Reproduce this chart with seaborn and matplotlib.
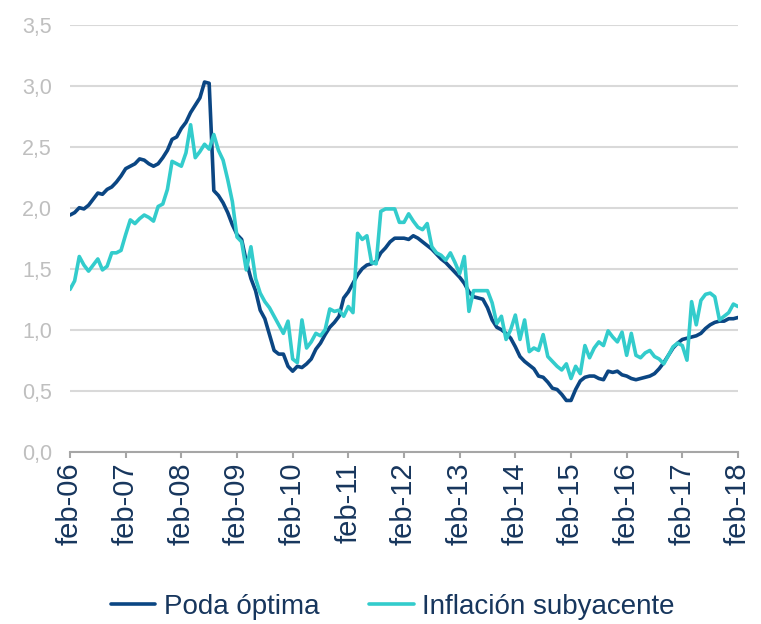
import pandas as pd
import seaborn as sns
import matplotlib.pyplot as plt

# Datos mensuales feb-06 ... feb-18 (145 meses)
poda_optima = [
    1.94, 1.96, 2.00, 1.99, 2.02, 2.07, 2.12, 2.11, 2.15, 2.17, 2.21, 2.26,
    2.32, 2.34, 2.36, 2.40, 2.39, 2.36, 2.34, 2.36, 2.41, 2.47, 2.56, 2.58,
    2.65, 2.70, 2.78, 2.84, 2.90, 3.03, 3.02, 2.14, 2.10, 2.04, 1.96, 1.86,
    1.78, 1.74, 1.56, 1.42, 1.32, 1.16, 1.09, 0.96, 0.83, 0.80, 0.80, 0.70,
    0.66, 0.70, 0.69, 0.72, 0.76, 0.84, 0.89, 0.96, 1.02, 1.06, 1.11, 1.26,
    1.31, 1.38, 1.45, 1.50, 1.53, 1.54, 1.56, 1.63, 1.67, 1.72, 1.75, 1.75,
    1.75, 1.74, 1.77, 1.75, 1.72, 1.69, 1.66, 1.62, 1.58, 1.55, 1.51, 1.47,
    1.43, 1.38, 1.31, 1.27, 1.26, 1.25, 1.18, 1.08, 1.02, 1.00, 0.97, 0.93,
    0.86, 0.78, 0.74, 0.71, 0.68, 0.62, 0.61, 0.57, 0.52, 0.51, 0.47, 0.42,
    0.42, 0.51, 0.58, 0.61, 0.62, 0.62, 0.60, 0.59, 0.66, 0.65, 0.66, 0.63,
    0.62, 0.60, 0.59, 0.60, 0.61, 0.62, 0.64, 0.68, 0.73, 0.79, 0.85, 0.89,
    0.92, 0.93, 0.94, 0.95, 0.97, 1.01, 1.04, 1.06, 1.07, 1.07, 1.09, 1.09,
    1.10,
]
inflacion_subyacente = [
    1.33, 1.40, 1.60, 1.53, 1.48, 1.53, 1.58, 1.49, 1.52, 1.63, 1.63, 1.65,
    1.78, 1.90, 1.87, 1.91, 1.94, 1.92, 1.89, 2.01, 2.03, 2.15, 2.38, 2.36,
    2.34, 2.45, 2.68, 2.41, 2.46, 2.52, 2.48, 2.60, 2.47, 2.39, 2.23, 2.05,
    1.76, 1.72, 1.49, 1.68, 1.42, 1.30, 1.23, 1.18, 1.11, 1.04, 0.97, 1.07,
    0.76, 0.73, 1.08, 0.85, 0.90, 0.97, 0.95, 1.00, 1.17, 1.15, 1.16, 1.11,
    1.19, 1.14, 1.79, 1.74, 1.77, 1.55, 1.54, 1.97, 1.99, 1.99, 1.99, 1.88,
    1.88, 1.95, 1.89, 1.84, 1.82, 1.87, 1.68, 1.63, 1.61, 1.57, 1.63, 1.55,
    1.46, 1.60, 1.15, 1.32, 1.32, 1.32, 1.32, 1.22, 1.05, 1.11, 0.92, 1.00,
    1.12, 0.92, 1.08, 0.82, 0.85, 0.83, 0.96, 0.78, 0.74, 0.70, 0.67, 0.72,
    0.60, 0.70, 0.64, 0.87, 0.77, 0.85, 0.90, 0.87, 0.99, 0.94, 0.90, 0.98,
    0.79, 0.97, 0.79, 0.77, 0.81, 0.83, 0.78, 0.76, 0.72, 0.79, 0.86, 0.89,
    0.87, 0.75, 1.23, 1.04, 1.24, 1.29, 1.30, 1.27, 1.08, 1.11, 1.14, 1.21,
    1.19,
]
etiquetas = ['feb-06', 'feb-07', 'feb-08', 'feb-09', 'feb-10', 'feb-11', 'feb-12',
             'feb-13', 'feb-14', 'feb-15', 'feb-16', 'feb-17', 'feb-18']
yticks = [0.0, 0.5, 1.0, 1.5, 2.0, 2.5, 3.0, 3.5]

color_poda = '#0b4683'
color_infl = '#33cccc'
color_texto = '#17365d'

sns.set_theme(style='white')
plt.rcParams['font.family'] = ['Liberation Sans', 'DejaVu Sans']

meses = list(range(len(poda_optima)))
df = pd.DataFrame({'mes': meses,
                   'Poda óptima': poda_optima,
                   'Inflación subyacente': inflacion_subyacente})
df = df.melt(id_vars='mes', var_name='serie', value_name='valor')

fig = plt.figure(figsize=(7.61, 6.24), dpi=100)
ax = fig.add_axes([70 / 761, 1 - 451.7 / 624, 668 / 761, 427 / 624])

sns.lineplot(data=df, x='mes', y='valor', hue='serie',
             palette=[color_poda, color_infl], linewidth=2.6, ax=ax, legend=True)

# Ejes y rejilla
ax.set_xlim(0, len(meses) - 1)
ax.set_ylim(0, 3.5)
ax.set_yticks(yticks)
ax.set_yticklabels([f'{v:.1f}'.replace('.', ',') for v in yticks])
ax.set_xticks(range(0, len(meses), 12))
ax.set_xticklabels(etiquetas, rotation=90)
ax.set_xlabel('')
ax.set_ylabel('')
ax.grid(axis='y', color='#d9d9d9', linewidth=1.5)
ax.set_axisbelow(True)
for lado in ['top', 'right', 'left']:
    ax.spines[lado].set_visible(False)
ax.spines['bottom'].set_color('#a6a6a6')
ax.spines['bottom'].set_linewidth(1.5)
ax.tick_params(axis='y', length=0, pad=13, labelsize=15.5, labelcolor='#bfbfbf')
ax.tick_params(axis='x', length=4, width=1.5, color='#a6a6a6', pad=4,
               labelsize=21, labelcolor=color_texto, bottom=True)

# Leyenda abajo
handles, labels = ax.get_legend_handles_labels()
ax.legend_.remove()
fig.legend(handles, labels, loc='center', bbox_to_anchor=(0.516, 0.027), ncol=2,
           frameon=False, fontsize=20, labelcolor=color_texto, handlelength=1.6,
           columnspacing=1.8, handletextpad=0.3)

fig.savefig('out.png', dpi=100)
